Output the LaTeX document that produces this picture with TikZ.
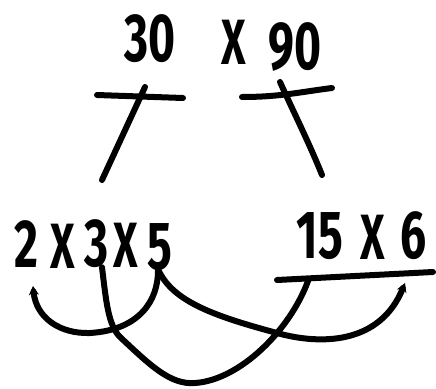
\documentclass[tikz,border=0pt]{standalone}
\usepackage{fontspec}
\setmainfont{Fira Sans}
\usetikzlibrary{arrows.meta}
\tikzset{
  ink/.style={line width=6pt, line cap=round, line join=round, black},
  inkarrow/.style={ink, -{Stealth[length=9pt,width=10pt]}},
  digit/.style={inner sep=0pt, font=\fontsize{68}{68}\selectfont\bfseries},
  times/.style={inner sep=0pt, font=\fontsize{64}{64}\selectfont\bfseries}
}
\newcommand{\narrow}[1]{\scalebox{0.68}[1]{#1}}
\newcommand{\tallx}{\scalebox{0.66}[1]{X}}
\begin{document}
\begin{tikzpicture}[x=1pt,y=-1pt]
\useasboundingbox (0,0) rectangle (436,388);
% top
\node[digit] (t30) at (150,39) {\narrow{30}};
\node[times] (tx) at (234,42) {\tallx};
\node[digit] (t90) at (295,47) {\narrow{90}};
% T shapes
\coordinate (lb1) at (97,95);
\coordinate (lb2) at (183,98);
\coordinate (ls1) at (145,87);
\coordinate (ls2) at (102,180);
\coordinate (rb1) at (242,97);
\coordinate (rb2) at (332,88);
\coordinate (rs1) at (280,82);
\coordinate (rs2) at (322,175);
\draw[ink] (lb1) -- (lb2);
\draw[ink] (ls1) -- (ls2);
\draw[ink] (rb1) .. controls (280,97) and (300,92) .. (rb2);
\draw[ink] (rs1) .. controls (295,115) and (310,145) .. (rs2);
% bottom left
\node[digit] (b2) at (26,244) {\narrow{2}};
\node[times] (bx1) at (63,246) {\tallx};
\node[digit] (b3) at (97,244) {\narrow{3}};
\node[times] (bx2) at (126,245) {\tallx};
\node[digit] (b5) at (160,247) {\narrow{5}};
% bottom right
\node[digit] (b15) at (320,236) {\narrow{15}};
\node[times] (bx3) at (373,237) {\tallx};
\node[digit] (b6) at (414,236) {\narrow{6}};
\coordinate (u1) at (277,280);
\coordinate (u2) at (433,272);
\draw[ink] (u1) -- (u2);
% curves
\coordinate (e2) at (33,286);
\coordinate (e15) at (308,281);
\coordinate (e6) at (405,283);
\draw[inkarrow] ([xshift=-2pt]b5.south) .. controls (158,300) and (140,330) .. (90,333)
   .. controls (60,334) and (36,318) .. (e2);
\draw[ink] ([xshift=5pt,yshift=1pt]b3.south) .. controls (106,300) and (108,325) .. (120,337)
   .. controls (150,365) and (170,385) .. (195,383)
   .. controls (240,380) and (290,330) .. (e15);
\draw[inkarrow] ([xshift=-3pt,yshift=4pt]b5.south) .. controls (170,300) and (210,315) .. (277,333)
   .. controls (320,345) and (380,345) .. (e6);
\end{tikzpicture}
\end{document}
